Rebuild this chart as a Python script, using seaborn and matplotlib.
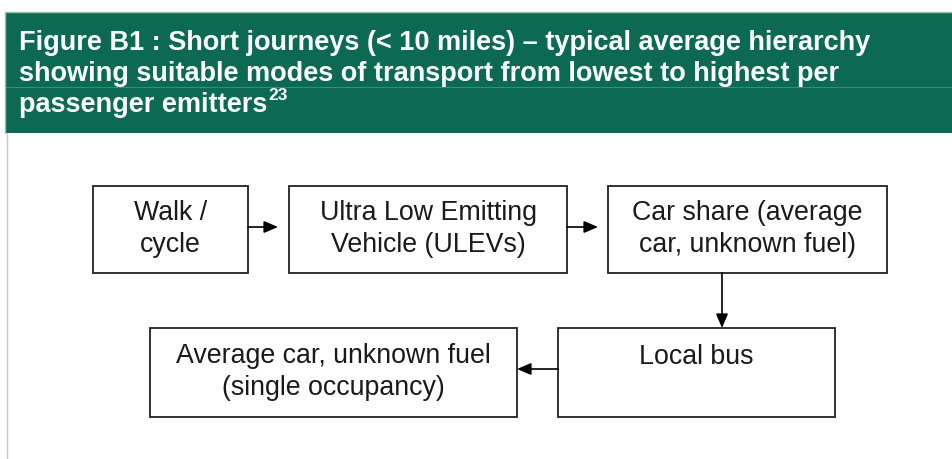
import matplotlib
matplotlib.use("Agg")
import matplotlib.pyplot as plt
import seaborn as sns
from matplotlib.patches import Rectangle

sns.set_theme(style="white")
plt.rcParams['font.family'] = ['Liberation Sans', 'DejaVu Sans']

# ---- content ----
title_lines = [
    "Figure B1 : Short journeys (< 10 miles) \u2013 typical average hierarchy",
    "showing suitable modes of transport from lowest to highest per",
    "passenger emitters",
]
title_sup = "23"
box_labels = [
    "Walk /\ncycle",
    "Ultra Low Emitting\nVehicle (ULEVs)",
    "Car share (average\ncar, unknown fuel)",
    "Local bus",
    "Average car, unknown fuel\n(single occupancy)",
]
# flow order: index pairs (from, to)
flow = [(0, 1), (1, 2), (2, 3), (3, 4)]

# ---- layout (pixel coordinates) ----
box_x0 = [93, 289, 608, 558, 150]
box_x1 = [248, 567, 887, 835, 517]
box_y0 = [186, 186, 186, 328, 328]
box_y1 = [273, 273, 273, 417, 417]
text_y = [229, 229, 229, 357, 372]
arrow_pts = [((248, 227), (278, 227)),
             ((567, 227), (598, 227)),
             ((722, 273), (722, 328)),
             ((558, 369), (517, 369))]

W, H = 952, 459
fig = plt.figure(figsize=(W / 100, H / 100), dpi=100)
ax = fig.add_axes([0, 0, 1, 1])
ax.set_xlim(0, W)
ax.set_ylim(H, 0)
ax.axis('off')

green = '#0c6a52'
# header band
ax.add_patch(Rectangle((5, 12), W - 5, 121, facecolor=green, edgecolor='none'))
ax.plot([5, W], [12, 12], color='#9bbfb2', lw=1)
ax.plot([5, W], [87, 87], color='#3f8a74', lw=0.8)
ax.plot([5, 5], [12, 133], color='#9bbfb2', lw=1)
# left rule below header
ax.plot([7, 7], [133, H], color='#c8c8c8', lw=1)

title_y = [43, 74, 105]
fs_title = 19.5
texts = []
for line, y in zip(title_lines, title_y):
    t = ax.text(19, y, line, color='white', fontsize=fs_title, fontweight='bold',
                ha='left', va='center')
    texts.append(t)
fig.canvas.draw()
r = fig.canvas.get_renderer()
bb = texts[-1].get_window_extent(r)
inv = ax.transData.inverted()
xd, _ = inv.transform((bb.x1, 0))
ax.text(xd + 1, title_y[-1] - 10, title_sup, color='white', fontsize=12.5,
        fontweight='bold', ha='left', va='center')

# boxes
for lab, x0, x1, y0, y1, ty in zip(box_labels, box_x0, box_x1, box_y0, box_y1, text_y):
    ax.add_patch(Rectangle((x0, y0), x1 - x0, y1 - y0, facecolor='white',
                           edgecolor='#222222', lw=1.3))
    ax.text((x0 + x1) / 2, ty if '\n' in lab else y0 + 29, lab, ha='center',
            va='center', fontsize=19.3, color='#1a1a1a', linespacing=1.3)

for (a, b) in arrow_pts:
    ax.annotate('', xy=b, xytext=a,
                arrowprops=dict(arrowstyle='-|>,head_length=0.7,head_width=0.3',
                                color='black', lw=1.2, shrinkA=0, shrinkB=0))

fig.savefig('out.png', dpi=100, facecolor='white')
